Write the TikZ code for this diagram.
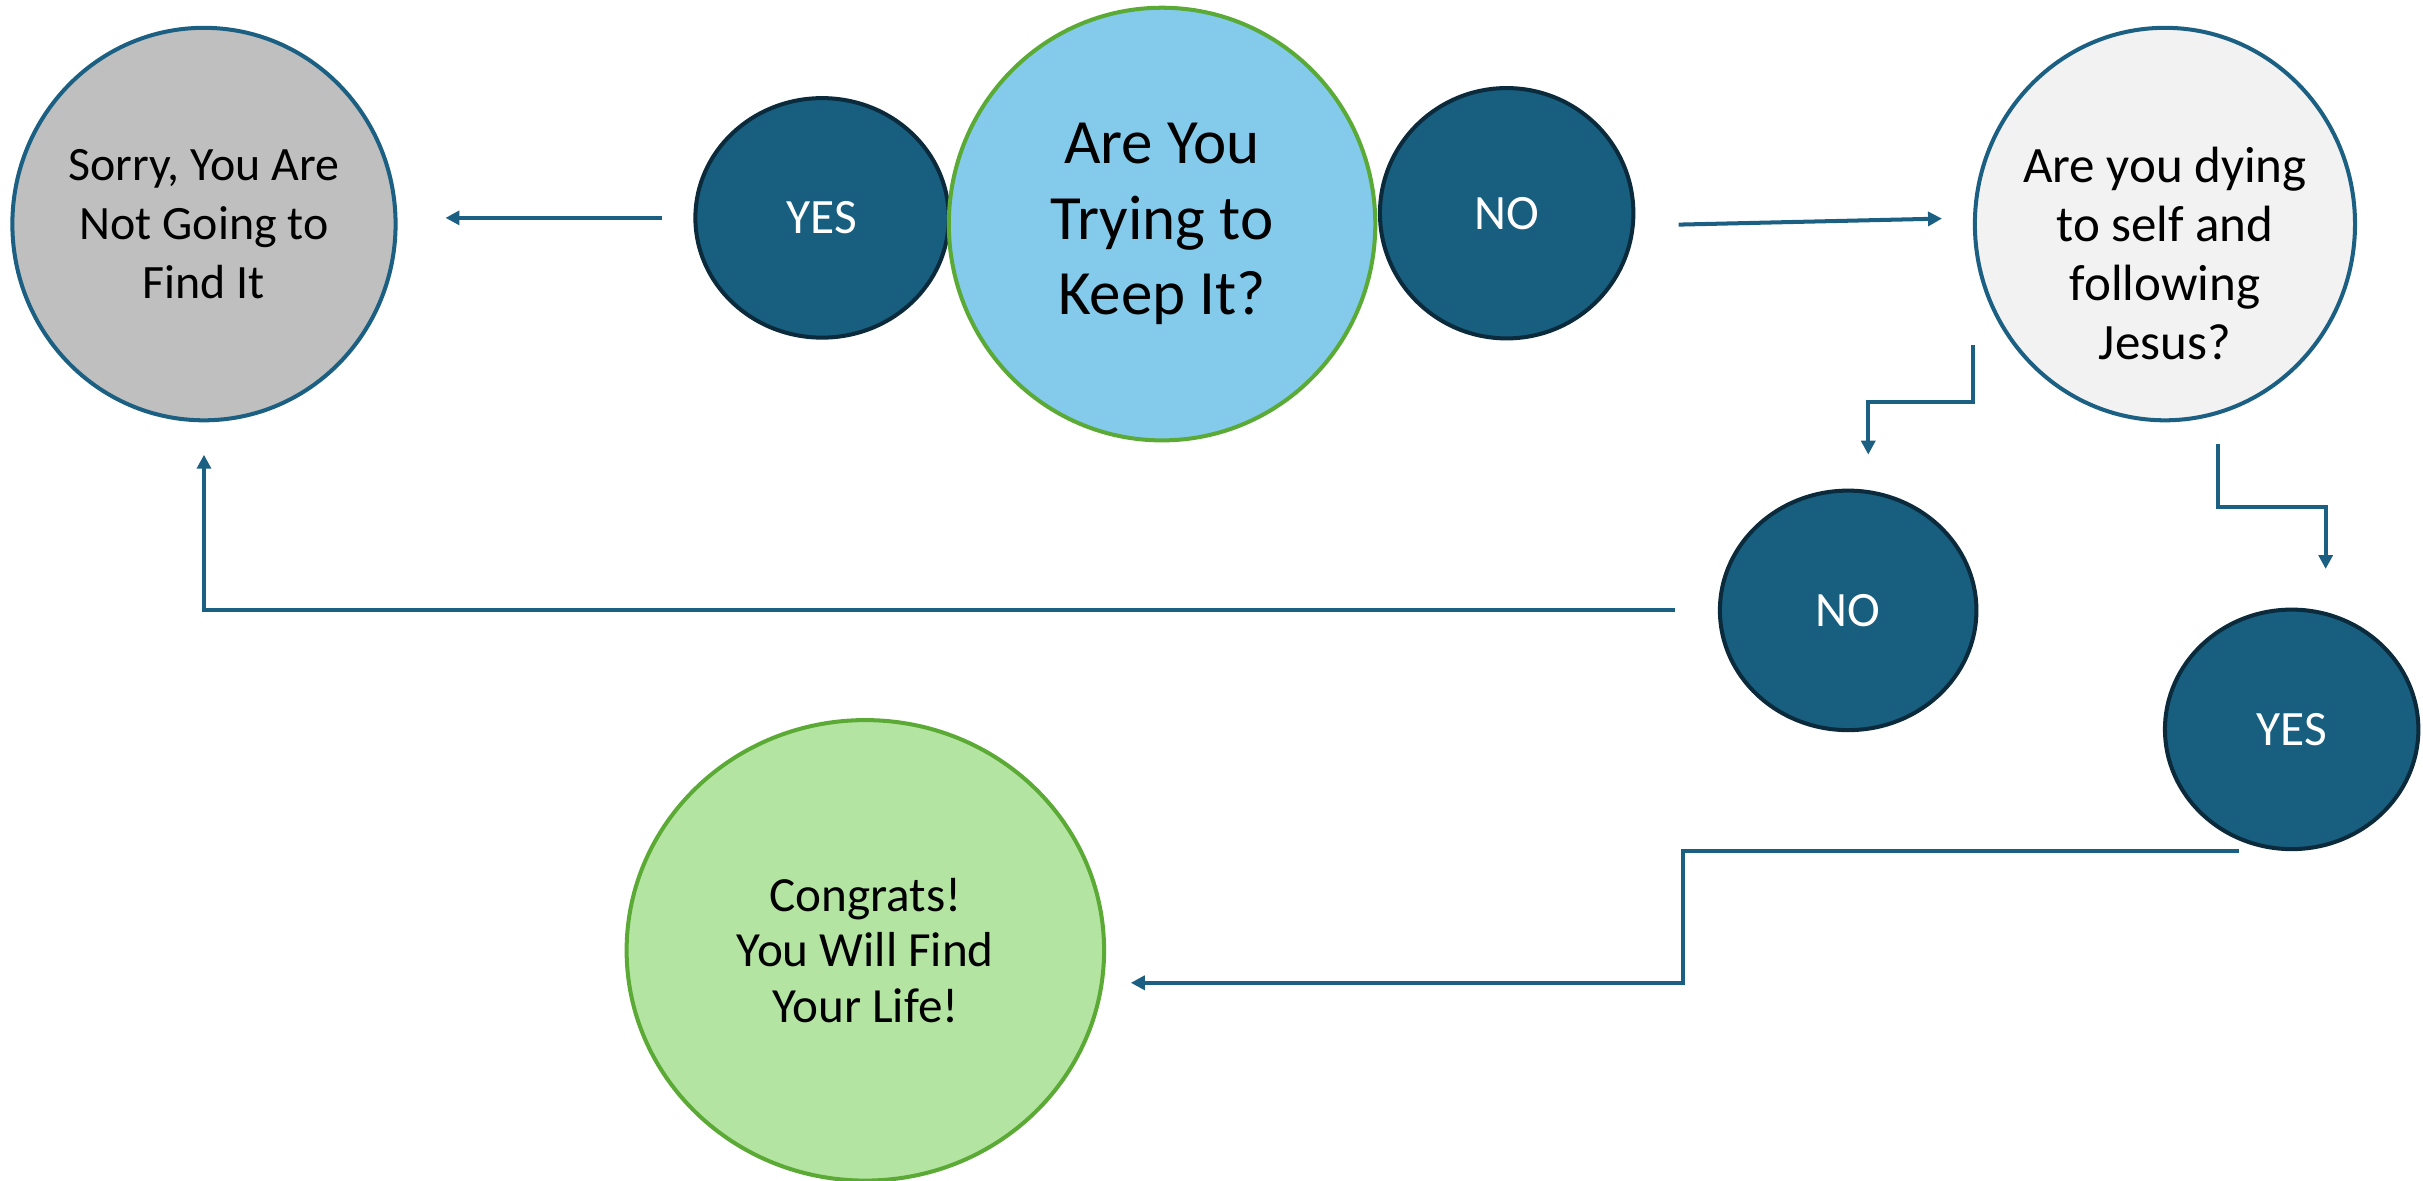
\documentclass[tikz,border=0pt]{standalone}
\usepackage{fontspec}
\setmainfont{Carlito}
\usetikzlibrary{shapes.geometric,arrows.meta}

\begin{document}
\begin{tikzpicture}[x=0.5pt,y=-0.5pt,
  bubble/.style={ellipse,inner sep=0pt,align=center,line width=1.3pt},
  answer/.style={bubble,draw=borderDark,fill=answerFill,text=white,line width=1.3pt,
    minimum width=82pt,minimum height=77.5pt,font=\fontsize{16}{19}\selectfont},
  conn/.style={draw=lineColor,line width=1.3pt,-{Triangle[length=4.5pt,width=4.5pt]}}]
\definecolor{lineColor}{RGB}{27,96,130}
\definecolor{borderDark}{RGB}{11,42,59}
\definecolor{answerFill}{RGB}{23,94,127}
\definecolor{sorryFill}{RGB}{191,191,191}
\definecolor{keepFill}{RGB}{131,202,235}
\definecolor{greenBorder}{RGB}{90,170,53}
\definecolor{dyingFill}{RGB}{242,242,242}
\definecolor{congratsFill}{RGB}{180,228,162}
\path[use as bounding box,fill=white] (0,0) rectangle (1568,764);

% question and answers
\node[bubble,draw=lineColor,fill=sorryFill,minimum width=124pt,minimum height=127pt,
  font=\fontsize{15.5}{19}\selectfont] (sorry) at (132,145) {Sorry, You Are\\Not Going to\\Find It};
\node[answer] (yesA) at (532,141) {YES};
\node[bubble,draw=greenBorder,fill=keepFill,minimum width=138pt,minimum height=140pt,
  font=\fontsize{20.4}{24.5}\selectfont] (keep) at (752,145) {Are You\\Trying to\\Keep It?};
\node[answer,minimum height=81pt] (noA) at (975,138) {NO};
\node[bubble,draw=lineColor,fill=dyingFill,minimum width=123pt,minimum height=127pt,
  label={[align=center,yshift=-9.5pt,font=\fontsize{16.5}{19}\selectfont]center:{Are you dying\\to self and\\following\\Jesus?}}] (dying) at (1401,145) {};
\node[answer,minimum width=83pt] (noB) at (1196,395) {NO};
\node[answer] (yesB) at (1483,472) {YES};
\node[bubble,draw=greenBorder,fill=congratsFill,minimum width=154.5pt,minimum height=149pt,
  font=\fontsize{15.9}{18}\selectfont] (congrats) at (560,615) {Congrats!\\You Will Find\\Your Life!};

% connectors
\draw[conn,shorten <=10pt,shorten >=15.5pt] (yesA.west) -- (yesA.west -| sorry.east);
\draw[conn,shorten <=14pt,shorten >=10pt] ([yshift=-4pt]noA.east) -- ([yshift=2pt]dying.west);
\draw[conn,shorten >=11pt] ([yshift=-39pt]dying.west) -- ++(0,37) -| ([xshift=6.5pt]noB.north);
\draw[conn,shorten >=12.5pt] ([xshift=17pt,yshift=-7pt]dying.south) -- ++(0,41) -| ([xshift=11pt]yesB.north);
\draw[conn,shorten <=14pt,shorten >=10.5pt] (noB.west) -| (sorry.south);
\draw[conn,shorten >=8pt] ([xshift=-17pt]yesB.south) -- ++(-360,0) |- ([yshift=-10.5pt]congrats.east);
\end{tikzpicture}
\end{document}
